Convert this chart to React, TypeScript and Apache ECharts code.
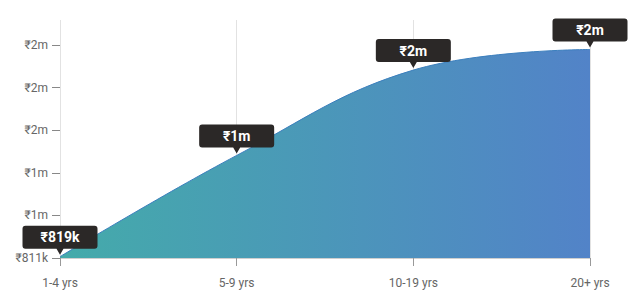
import React, { useEffect, useRef } from "react";
import * as echarts from "echarts";

const categories = ["1-4 yrs", "5-9 yrs", "10-19 yrs", "20+ yrs"];
const salaries = [819000, 1413000, 1914000, 2035000];
const yTicks = [811000, 1061000, 1311000, 1561000, 1811000, 2061000];
const yMin = 811000;
const yMax = 2208000;

function fmt(v: number): string {
  if (v < 1000000) return "₹" + Math.round(v / 1000) + "k";
  return "₹" + Math.round(v / 1000000) + "m";
}

const bubble =
  "path://M3,0 H72 Q75,0 75,3 V20 Q75,23 72,23 H41 L37.5,29 L34,23 H3 Q0,23 0,20 V3 Q0,0 3,0 Z";

export default function App() {
  const ref = useRef<HTMLDivElement>(null);
  useEffect(() => {
    if (!ref.current) return;
    const chart = echarts.init(ref.current, null, { renderer: "svg" });
    chart.setOption({
      animation: false,
      grid: { left: 60, right: 38, top: 20, bottom: 43 },
      xAxis: {
        type: "category",
        data: categories,
        boundaryGap: false,
        axisLine: { lineStyle: { color: "#cfcfcf" } },
        axisTick: { show: true, length: 8, lineStyle: { color: "#999" }, alignWithLabel: true },
        axisLabel: {
          color: "#666",
          fontSize: 12,
          fontFamily: "Roboto",
          margin: 19,
        },
        splitLine: { show: true, lineStyle: { color: "#e2e2e2", width: 1 } },
      },
      yAxis: {
        type: "value",
        min: yMin,
        max: yMax,
        axisLine: { show: false },
        splitLine: { show: false },
        axisTick: {
          show: true,
          length: 8,
          lineStyle: { color: "#888" },
          customValues: yTicks,
        },
        axisLabel: {
          color: "#666",
          fontSize: 12,
          fontFamily: "Roboto",
          margin: 12,
          customValues: yTicks,
          formatter: (v: number) => fmt(v),
        },
      },
      series: [
        {
          type: "line",
          data: salaries,
          smooth: 0.4,
          symbol: "none",
          lineStyle: { color: "#3c7fbd", width: 1 },
          areaStyle: {
            opacity: 1,
            color: new echarts.graphic.LinearGradient(0, 0, 1, 0, [
              { offset: 0, color: "#44abaa" },
              { offset: 1, color: "#5283c8" },
            ]),
          },
          markPoint: {
            symbol: bubble,
            symbolSize: [75, 29],
            symbolOffset: [0, -16.5],
            itemStyle: { color: "#2b2827" },
            label: {
              show: true,
              position: "inside",
              color: "#fff",
              fontWeight: "bold",
              fontSize: 14,
              fontFamily: "Roboto",
              offset: [0, -3],
              formatter: (p: any) => fmt(p.value),
            },
            data: categories.map((c, i) => ({
              coord: [c, salaries[i]],
              value: salaries[i],
            })),
          },
        },
      ],
    });
    return () => chart.dispose();
  }, []);
  return <div ref={ref} style={{ width: 628, height: 301, position: "absolute", left: 0, top: 0 }} />;
}
